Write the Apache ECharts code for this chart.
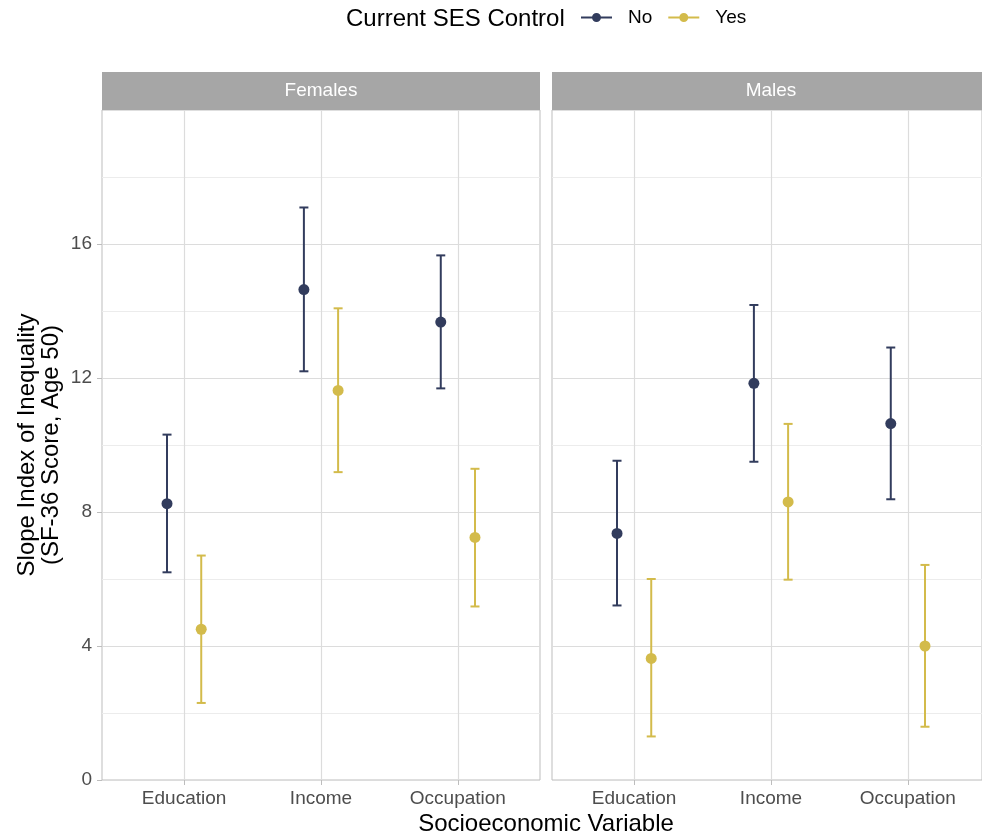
<!DOCTYPE html>
<html><head><meta charset="utf-8">
<script src="https://cdn.jsdelivr.net/npm/echarts@6/dist/echarts.min.js"></script>
<style>html,body{margin:0;padding:0;background:#fff}#c{width:982px;height:839px}</style>
</head><body><div id="c"></div>
<script>
// ---- data ----
const categories = ['Education', 'Income', 'Occupation'];
const panels = ['Females', 'Males'];
const groups = ['No', 'Yes'];
const yTicks = [0, 4, 8, 12, 16];

const femalesNoEst  = [8.25, 14.64, 13.67];
const femalesNoLow  = [6.20, 12.20, 11.69];
const femalesNoHigh = [10.31, 17.09, 15.66];
const femalesYesEst  = [4.50, 11.63, 7.24];
const femalesYesLow  = [2.30, 9.19, 5.18];
const femalesYesHigh = [6.70, 14.08, 9.29];

const malesNoEst  = [7.36, 11.84, 10.64];
const malesNoLow  = [5.21, 9.50, 8.38];
const malesNoHigh = [9.53, 14.18, 12.91];
const malesYesEst  = [3.63, 8.30, 4.00];
const malesYesLow  = [1.30, 5.98, 1.59];
const malesYesHigh = [6.00, 10.63, 6.42];

// ---- styles ----
const FONT = 'Liberation Sans, Arial, Helvetica, sans-serif';
const COLORS = {No: '#323C5D', Yes: '#D3BB4B'};
const DODGE = 0.125;
const CAP = 9;
const CANVAS_W = 982;
const PANEL_W = 438;           // full facet width (right facet is cut by the canvas edge)
const LEFTS = [102, 552];
const X_MIN = 0.4, X_SPAN = 3.2;
const TOP = 110, HEIGHT = 670, STRIP_H = 38;

const panelData = {
  Females: {No: [femalesNoEst, femalesNoLow, femalesNoHigh], Yes: [femalesYesEst, femalesYesLow, femalesYesHigh]},
  Males:   {No: [malesNoEst, malesNoLow, malesNoHigh],       Yes: [malesYesEst, malesYesLow, malesYesHigh]}
};

function errRender(params, api) {
  const x = api.value(0), lo = api.value(1), hi = api.value(2);
  const a = api.coord([x, lo]), b = api.coord([x, hi]);
  const hw = CAP / 2;
  const style = {stroke: api.visual('color'), lineWidth: 2};
  return {type: 'group', children: [
    {type: 'line', shape: {x1: a[0], y1: a[1], x2: b[0], y2: b[1]}, style},
    {type: 'line', shape: {x1: a[0] - hw, y1: a[1], x2: a[0] + hw, y2: a[1]}, style},
    {type: 'line', shape: {x1: b[0] - hw, y1: b[1], x2: b[0] + hw, y2: b[1]}, style}
  ]};
}

const grid = [], xAxis = [], yAxis = [], series = [], graphic = [];
panels.forEach((p, pi) => {
  const visW = Math.min(PANEL_W, CANVAS_W - LEFTS[pi]);
  const xMax = X_MIN + X_SPAN * visW / PANEL_W;
  grid.push({left: LEFTS[pi], width: visW, top: TOP, height: HEIGHT,
    show: true, borderColor: '#bdbdbd', borderWidth: 1, backgroundColor: 'transparent', containLabel: false});
  xAxis.push({
    type: 'value', gridIndex: pi, min: X_MIN, max: xMax,
    axisLine: {show: false},
    axisTick: {show: true, length: 5, lineStyle: {color: '#bdbdbd'}, customValues: [1, 2, 3]},
    axisLabel: {show: true, customValues: [1, 2, 3], formatter: v => categories[Math.round(v) - 1] || '',
      color: '#4d4d4d', fontSize: 19, fontFamily: FONT, margin: 9},
    splitLine: {show: true, lineStyle: {color: '#dcdcdc', width: 1.2}}
  });
  yAxis.push({
    type: 'value', gridIndex: pi, min: 0, max: 20, interval: 4,
    axisLine: {show: false},
    axisTick: {show: pi === 0, length: 5, lineStyle: {color: '#bdbdbd'}, customValues: yTicks},
    axisLabel: {show: pi === 0, customValues: yTicks, color: '#4d4d4d', fontSize: 19, fontFamily: FONT, margin: 10},
    splitLine: {show: true, lineStyle: {color: '#dcdcdc', width: 1.2}},
    minorTick: {show: false, splitNumber: 2},
    minorSplitLine: {show: true, lineStyle: {color: '#ececec', width: 1}},
    name: pi === 0 ? 'Slope Index of Inequality\n(SF-36 Score, Age 50)' : '',
    nameLocation: 'middle', nameRotate: 90, nameGap: 39,
    nameTextStyle: {fontSize: 24, fontFamily: FONT, color: '#000', lineHeight: 24}
  });
  groups.forEach((g, gi) => {
    const [est, low, high] = panelData[p][g];
    const off = gi === 0 ? -DODGE : DODGE;
    series.push({
      type: 'custom', name: g, xAxisIndex: pi, yAxisIndex: pi,
      itemStyle: {color: COLORS[g]}, renderItem: errRender, z: 3,
      data: categories.map((c, i) => [i + 1 + off, low[i], high[i]])
    });
    series.push({
      type: 'scatter', name: g, xAxisIndex: pi, yAxisIndex: pi, symbolSize: 11,
      itemStyle: {color: COLORS[g], opacity: 1}, z: 4,
      data: categories.map((c, i) => [i + 1 + off, est[i]])
    });
  });
  graphic.push({type: 'rect', left: LEFTS[pi], top: TOP - STRIP_H, z: 10,
    shape: {width: PANEL_W, height: STRIP_H}, style: {fill: '#a6a6a6'}});
  graphic.push({type: 'text', x: LEFTS[pi] + PANEL_W / 2, y: TOP - STRIP_H / 2, z: 11,
    style: {text: p, fill: '#ffffff', font: '19px ' + FONT, textAlign: 'center', textVerticalAlign: 'middle'}});
});
graphic.push({type: 'text', x: 546, y: 824, z: 11,
  style: {text: 'Socioeconomic Variable', fill: '#000', font: '24px ' + FONT, textAlign: 'center', textVerticalAlign: 'middle'}});

const ICON = 'path://M0,3.5H31V5.5H0Z M15.5,0A4.5,4.5,0,1,1,15.49,0Z';

const option = {
  animation: false,
  textStyle: {fontFamily: FONT},
  title: {text: 'Current SES Control', left: 341, top: 2,
    textStyle: {fontSize: 24, fontWeight: 'normal', color: '#000', fontFamily: FONT}},
  legend: {left: 576, top: 3, itemWidth: 31, itemHeight: 9, itemGap: 16,
    data: groups.map(g => ({name: g, icon: ICON})),
    textStyle: {fontSize: 19, color: '#000', fontFamily: FONT, padding: [0, 0, 0, 11]}},
  grid, xAxis, yAxis, series, graphic
};
const chart = echarts.init(document.getElementById('c'), null, {renderer: 'canvas'});
chart.setOption(option);
</script></body></html>
